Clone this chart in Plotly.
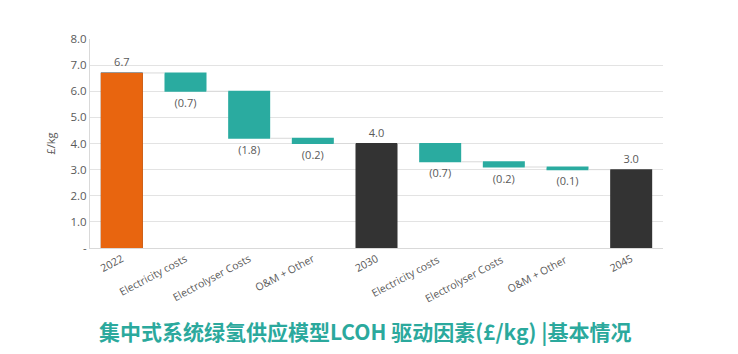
import plotly.graph_objects as go

categories = ["2022", "Electricity costs", "Electrolyser Costs", "O&M + Other",
              "2030", "Electricity costs ", "Electrolyser Costs ", "O&M + Other ", "2045"]
measures = ["absolute", "relative", "relative", "relative", "total",
            "relative", "relative", "relative", "total"]
values = [6.7, -0.7, -1.8, -0.2, 4.0, -0.7, -0.2, -0.1, 3.0]
labels = ["6.7", "(0.7)", "(1.8)", "(0.2)", "4.0", "(0.7)", "(0.2)", "(0.1)", "3.0"]
y_ticks = [0, 1, 2, 3, 4, 5, 6, 7, 8]
y_ticktext = ["-", "1.0", "2.0", "3.0", "4.0", "5.0", "6.0", "7.0", "8.0"]
title_text = "集中式系统绿氢供应模型LCOH 驱动因素(£/kg) |基本情况"

ORANGE = "#E8650F"
TEAL = "#2AABA0"
DARK = "#333333"
GREY = "#595959"
W = 0.66

fig = go.Figure()
fig.add_trace(go.Waterfall(
    x=categories, y=values, measure=measures,
    text=labels, textposition="outside",
    textfont=dict(size=11, color=GREY, family="Open Sans"),
    decreasing=dict(marker=dict(color=TEAL)),
    increasing=dict(marker=dict(color=TEAL)),
    totals=dict(marker=dict(color=DARK)),
    connector=dict(line=dict(color="#D9D9D9", width=1)),
    width=[W] * len(categories),
    cliponaxis=False, hoverinfo="skip", showlegend=False,
))
fig.add_trace(go.Bar(
    x=[categories[0]], y=[values[0]], width=[W],
    marker=dict(color=ORANGE, line=dict(width=0)),
    hoverinfo="skip", showlegend=False,
))

fig.update_layout(
    width=738, height=354,
    margin=dict(l=90, r=75, t=39, b=106),
    paper_bgcolor="white", plot_bgcolor="white",
    font=dict(family="Open Sans", color=GREY, size=11),
    xaxis=dict(tickangle=-28, tickfont=dict(size=10.5, color=GREY),
               showline=True, linecolor="#D9D9D9", ticks="", showgrid=False),
    yaxis=dict(range=[0, 8], tickvals=y_ticks, ticktext=y_ticktext,
               showgrid=True, gridcolor="#E3E3E3", gridwidth=1,
               showline=True, linecolor="#D9D9D9", zeroline=False,
               tickfont=dict(size=11.5, color=GREY), ticks="",
               title=dict(text="£/kg", font=dict(size=11, color=GREY), standoff=12)),
    annotations=[dict(
        text="<b>" + title_text + "</b>", xref="paper", yref="paper", x=0.48, y=-0.0,
        yanchor="top", xanchor="center", yshift=-66, showarrow=False,
        font=dict(family="Noto Sans CJK SC", size=21, color="#2BA99D"),
    )],
)

fig.write_html("out.html")
